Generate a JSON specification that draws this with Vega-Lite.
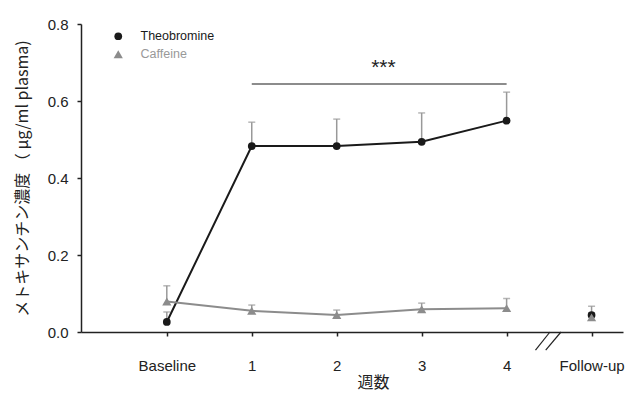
{
  "$schema": "https://vega.github.io/schema/vega-lite/v6.json",
  "width": 542,
  "height": 308,
  "autosize": "none",
  "padding": {"left": 81, "top": 24, "right": 8, "bottom": 62},
  "background": "white",
  "config": {
    "view": {"stroke": null},
    "font": "Liberation Sans",
    "axis": {"grid": false, "domainColor": "#222", "tickColor": "#222", "domainWidth": 1.5, "tickWidth": 1.5, "labelColor": "#222", "titleColor": "#222", "labelFont": "Liberation Sans"}
  },
  "datasets": {
    "conc": [
      {"x": 0, "compound": "Theobromine", "mean": 0.026, "upper": 0.052},
      {"x": 1, "compound": "Theobromine", "mean": 0.483, "upper": 0.545},
      {"x": 2, "compound": "Theobromine", "mean": 0.483, "upper": 0.553},
      {"x": 3, "compound": "Theobromine", "mean": 0.494, "upper": 0.569},
      {"x": 4, "compound": "Theobromine", "mean": 0.549, "upper": 0.623},
      {"x": 5, "compound": "Theobromine", "mean": 0.044, "upper": 0.067},
      {"x": 0, "compound": "Caffeine", "mean": 0.079, "upper": 0.12},
      {"x": 1, "compound": "Caffeine", "mean": 0.055, "upper": 0.07},
      {"x": 2, "compound": "Caffeine", "mean": 0.044, "upper": 0.057},
      {"x": 3, "compound": "Caffeine", "mean": 0.059, "upper": 0.075},
      {"x": 4, "compound": "Caffeine", "mean": 0.062, "upper": 0.087},
      {"x": 5, "compound": "Caffeine", "mean": 0.038, "upper": 0.05}
    ],
    "sig": [{"x": 1, "x2": 4, "y": 0.644, "stars": "***", "sx": 2.55, "sy": 0.685}],
    "brk": [
      {"x": 4.34, "y": -0.047, "x2": 4.51, "y2": 0},
      {"x": 4.46, "y": -0.047, "x2": 4.64, "y2": 0}
    ]
  },
  "layer": [
    {
      "data": {"name": "conc"},
      "mark": {"type": "rule", "color": "#999", "strokeWidth": 1.5},
      "encoding": {
        "x": {"field": "x", "type": "quantitative", "scale": {"domain": [-1.01, 5.37], "nice": false, "zero": false},
          "axis": {"values": [0, 1, 2, 3, 4, 5], "labelExpr": "datum.value == 0 ? 'Baseline' : datum.value == 5 ? 'Follow-up' : datum.value", "labelFontSize": 15, "tickSize": 4, "labelPadding": 22, "title": "週数", "titleFont": "Noto Sans CJK JP", "titleFontSize": 16, "titleFontWeight": "normal", "titlePadding": 1, "titleX": 292, "titleAnchor": "middle"}},
        "y": {"field": "mean", "type": "quantitative", "scale": {"domain": [0, 0.8], "nice": false},
          "axis": {"values": [0, 0.2, 0.4, 0.6, 0.8], "format": ".1f", "labelFontSize": 15, "tickSize": 4, "labelPadding": 9, "title": "メトキサンチン濃度 （ μg/ml plasma)", "titleFont": "Noto Sans CJK JP", "titleFontSize": 16, "titleFontWeight": "normal", "titlePadding": 17}},
        "y2": {"field": "upper"}
      }
    },
    {
      "data": {"name": "conc"},
      "mark": {"type": "tick", "orient": "horizontal", "color": "#999", "size": 7, "thickness": 1.5},
      "encoding": {
        "x": {"field": "x", "type": "quantitative"},
        "y": {"field": "upper", "type": "quantitative"}
      }
    },
    {
      "data": {"name": "conc"},
      "transform": [{"filter": "datum.x < 5"}],
      "mark": {"type": "line", "strokeWidth": 2},
      "encoding": {
        "x": {"field": "x", "type": "quantitative"},
        "y": {"field": "mean", "type": "quantitative"},
        "stroke": {"field": "compound", "type": "nominal", "scale": {"domain": ["Caffeine", "Theobromine"], "range": ["#8c8c8c", "#1a1a1a"]}, "legend": null},
        "order": {"field": "x", "type": "quantitative"}
      }
    },
    {
      "data": {"name": "conc"},
      "mark": {"type": "point", "filled": true, "opacity": 1},
      "encoding": {
        "x": {"field": "x", "type": "quantitative"},
        "y": {"field": "mean", "type": "quantitative"},
        "color": {"field": "compound", "type": "nominal", "scale": {"domain": ["Theobromine", "Caffeine"], "range": ["#1a1a1a", "#8c8c8c"]},
          "legend": {"title": null, "orient": "none", "legendX": 31, "legendY": 6, "padding": 0, "symbolSize": 110, "labelFontSize": 12.5, "labelOffset": 16, "rowPadding": 5, "labelFont": "Liberation Sans",
            "labelColor": {"expr": "datum.label === 'Caffeine' ? '#999999' : '#1a1a1a'"}}},
        "shape": {"field": "compound", "type": "nominal", "scale": {"domain": ["Theobromine", "Caffeine"], "range": ["circle", "triangle-up"]}},
        "size": {"field": "compound", "type": "nominal", "scale": {"domain": ["Theobromine", "Caffeine"], "range": [60, 85]}, "legend": null},
        "order": {"field": "compound", "type": "nominal", "sort": "descending"}
      }
    },
    {
      "data": {"name": "sig"},
      "mark": {"type": "rule", "color": "#8c8c8c", "strokeWidth": 2},
      "encoding": {
        "x": {"field": "x", "type": "quantitative"},
        "x2": {"field": "x2"},
        "y": {"field": "y", "type": "quantitative"}
      }
    },
    {
      "data": {"name": "sig"},
      "mark": {"type": "text", "fontSize": 21, "color": "#222", "baseline": "middle", "align": "center"},
      "encoding": {
        "x": {"field": "sx", "type": "quantitative"},
        "y": {"field": "sy", "type": "quantitative"},
        "text": {"field": "stars"}
      }
    },
    {
      "data": {"name": "brk"},
      "mark": {"type": "rule", "color": "#222", "strokeWidth": 1.2},
      "encoding": {
        "x": {"field": "x", "type": "quantitative"},
        "x2": {"field": "x2"},
        "y": {"field": "y", "type": "quantitative"},
        "y2": {"field": "y2"}
      }
    }
  ]
}
